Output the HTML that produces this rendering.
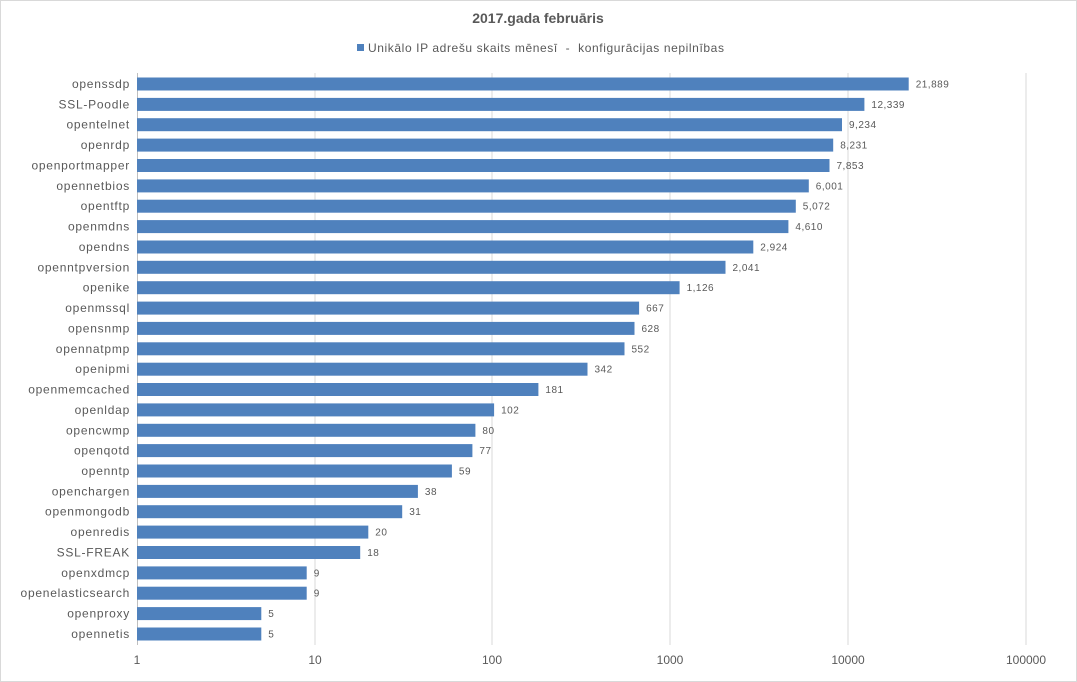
<!DOCTYPE html>
<html><head><meta charset="utf-8"><style>
html,body{margin:0;padding:0;background:#fff}
svg{display:block;font-family:"Liberation Sans",sans-serif}
.l{font-size:12px;fill:#595959;text-anchor:end;letter-spacing:0.75px}
.v{font-size:10px;fill:#595959;letter-spacing:0.5px}
.t{font-size:12px;fill:#595959;text-anchor:middle}
</style></head><body>
<svg width="1077" height="682" viewBox="0 0 1077 682">
<rect x="0.5" y="0.5" width="1076" height="681" fill="#fff" stroke="#d9d9d9"/>
<text x="538" y="23" text-anchor="middle" font-size="14" font-weight="bold" fill="#595959">2017.gada februāris</text>
<rect x="357" y="44" width="7" height="7" fill="#4f81bd"/>
<text x="368" y="52" font-size="12" fill="#595959" letter-spacing="0.6" xml:space="preserve">Unikālo IP adrešu skaits mēnesī  -  konfigurācijas nepilnības</text>
<g stroke="#d9d9d9" stroke-width="1">
<line x1="315" y1="73" x2="315" y2="645"/><line x1="492" y1="73" x2="492" y2="645"/><line x1="670" y1="73" x2="670" y2="645"/><line x1="848" y1="73" x2="848" y2="645"/><line x1="1026" y1="73" x2="1026" y2="645"/>
</g>
<line x1="137.5" y1="73" x2="137.5" y2="645" stroke="#bfbfbf"/>
<g fill="#4f81bd">
<rect x="137" y="77.5" width="771.7" height="13"/>
<rect x="137" y="97.9" width="727.4" height="13"/>
<rect x="137" y="118.2" width="705" height="13"/>
<rect x="137" y="138.6" width="696.2" height="13"/>
<rect x="137" y="159" width="692.5" height="13"/>
<rect x="137" y="179.4" width="671.8" height="13"/>
<rect x="137" y="199.7" width="658.8" height="13"/>
<rect x="137" y="220.1" width="651.4" height="13"/>
<rect x="137" y="240.5" width="616.3" height="13"/>
<rect x="137" y="260.8" width="588.5" height="13"/>
<rect x="137" y="281.2" width="542.6" height="13"/>
<rect x="137" y="301.6" width="502.1" height="13"/>
<rect x="137" y="321.9" width="497.5" height="13"/>
<rect x="137" y="342.3" width="487.5" height="13"/>
<rect x="137" y="362.7" width="450.5" height="13"/>
<rect x="137" y="383" width="401.4" height="13"/>
<rect x="137" y="403.4" width="357.1" height="13"/>
<rect x="137" y="423.8" width="338.4" height="13"/>
<rect x="137" y="444.1" width="335.4" height="13"/>
<rect x="137" y="464.5" width="314.9" height="13"/>
<rect x="137" y="484.9" width="280.9" height="13"/>
<rect x="137" y="505.2" width="265.2" height="13"/>
<rect x="137" y="525.6" width="231.3" height="13"/>
<rect x="137" y="546" width="223.2" height="13"/>
<rect x="137" y="566.4" width="169.7" height="13"/>
<rect x="137" y="586.7" width="169.7" height="13"/>
<rect x="137" y="607.1" width="124.3" height="13"/>
<rect x="137" y="627.5" width="124.3" height="13"/>
</g>
<g class="l">
<text x="130" y="88">openssdp</text>
<text x="130" y="108.4">SSL-Poodle</text>
<text x="130" y="128.7">opentelnet</text>
<text x="130" y="149.1">openrdp</text>
<text x="130" y="169.5">openportmapper</text>
<text x="130" y="189.9">opennetbios</text>
<text x="130" y="210.2">opentftp</text>
<text x="130" y="230.6">openmdns</text>
<text x="130" y="251">opendns</text>
<text x="130" y="271.3">openntpversion</text>
<text x="130" y="291.7">openike</text>
<text x="130" y="312.1">openmssql</text>
<text x="130" y="332.4">opensnmp</text>
<text x="130" y="352.8">opennatpmp</text>
<text x="130" y="373.2">openipmi</text>
<text x="130" y="393.5">openmemcached</text>
<text x="130" y="413.9">openldap</text>
<text x="130" y="434.3">opencwmp</text>
<text x="130" y="454.6">openqotd</text>
<text x="130" y="475">openntp</text>
<text x="130" y="495.4">openchargen</text>
<text x="130" y="515.7">openmongodb</text>
<text x="130" y="536.1">openredis</text>
<text x="130" y="556.5">SSL-FREAK</text>
<text x="130" y="576.9">openxdmcp</text>
<text x="130" y="597.2">openelasticsearch</text>
<text x="130" y="617.6">openproxy</text>
<text x="130" y="638">opennetis</text>
</g>
<g class="v">
<text x="915.7" y="87.5">21,889</text>
<text x="871.4" y="107.9">12,339</text>
<text x="849" y="128.2">9,234</text>
<text x="840.2" y="148.6">8,231</text>
<text x="836.5" y="169">7,853</text>
<text x="815.8" y="189.4">6,001</text>
<text x="802.8" y="209.7">5,072</text>
<text x="795.4" y="230.1">4,610</text>
<text x="760.3" y="250.5">2,924</text>
<text x="732.5" y="270.8">2,041</text>
<text x="686.6" y="291.2">1,126</text>
<text x="646.1" y="311.6">667</text>
<text x="641.5" y="331.9">628</text>
<text x="631.5" y="352.3">552</text>
<text x="594.5" y="372.7">342</text>
<text x="545.4" y="393">181</text>
<text x="501.1" y="413.4">102</text>
<text x="482.4" y="433.8">80</text>
<text x="479.4" y="454.1">77</text>
<text x="458.9" y="474.5">59</text>
<text x="424.9" y="494.9">38</text>
<text x="409.2" y="515.2">31</text>
<text x="375.3" y="535.6">20</text>
<text x="367.2" y="556">18</text>
<text x="313.7" y="576.4">9</text>
<text x="313.7" y="596.7">9</text>
<text x="268.3" y="617.1">5</text>
<text x="268.3" y="637.5">5</text>
</g>
<g class="t">
<text x="137" y="664">1</text>
<text x="315" y="664">10</text>
<text x="492" y="664">100</text>
<text x="670" y="664">1000</text>
<text x="848" y="664">10000</text>
<text x="1026" y="664">100000</text>
</g>
</svg>
</body></html>
